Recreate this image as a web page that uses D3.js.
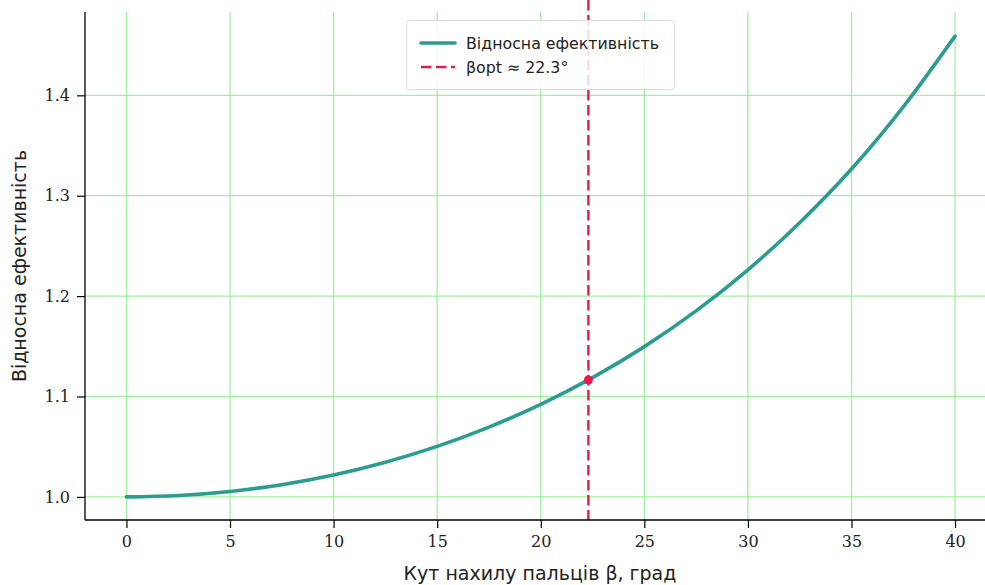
<!DOCTYPE html>
<html>
<head>
<meta charset="utf-8">
<script src="https://cdn.jsdelivr.net/npm/d3@7/dist/d3.min.js"></script>
<style>
  html, body { margin: 0; padding: 0; background: #fff; }
  svg { display: block; }
</style>
</head>
<body>
<svg id="chart" width="985" height="585"></svg>
<script>
// Tilt angle of the fingers, degrees
const betaDeg = [0, 2.5, 5, 7.5, 10, 12.5, 15, 17.5, 20, 22.5, 25, 27.5, 30, 32.5, 35, 37.5, 40];
// Relative efficiency at each angle
const efficiency = [1.000, 1.0014, 1.0054, 1.0122, 1.0218, 1.0345, 1.0503, 1.0695, 1.0922, 1.1188, 1.1497, 1.1853, 1.2262, 1.2731, 1.3266, 1.3885, 1.4590];
// Optimal angle and its efficiency
const betaOpt = 22.3;
const effOpt = 1.1165;
const xTicks = [0, 5, 10, 15, 20, 25, 30, 35, 40];
const yTicks = [1.0, 1.1, 1.2, 1.3, 1.4];

const svg = d3.select("#chart");
const pLeft = 85, pRight = 996.5, pTop = 12, pBottom = 520;

const x = d3.scaleLinear().domain([-2, 42]).range([pLeft, pRight]);
const y = d3.scaleLinear().domain([0.977, 1.483]).range([pBottom, pTop]);

// grid
const grid = svg.append("g");
grid.selectAll("line.vx").data(xTicks).join("line")
  .attr("x1", d => x(d)).attr("x2", d => x(d))
  .attr("y1", pTop).attr("y2", pBottom)
  .attr("stroke", "#90ee90").attr("stroke-opacity", 0.85).attr("stroke-width", 1.3);
grid.selectAll("line.hy").data(yTicks).join("line")
  .attr("x1", pLeft).attr("x2", pRight)
  .attr("y1", d => y(d)).attr("y2", d => y(d))
  .attr("stroke", "#90ee90").attr("stroke-opacity", 0.85).attr("stroke-width", 1.3);

// curve
const pts = betaDeg.map((b, i) => [b, efficiency[i]]);
svg.append("path")
  .datum(pts)
  .attr("fill", "none")
  .attr("stroke", "#2a9d8f")
  .attr("stroke-width", 3.6)
  .attr("stroke-linecap", "round")
  .attr("d", d3.line().x(d => x(d[0])).y(d => y(d[1])).curve(d3.curveMonotoneX));

// optimal angle marker
svg.append("line")
  .attr("x1", x(betaOpt)).attr("x2", x(betaOpt))
  .attr("y1", 0).attr("y2", pBottom)
  .attr("stroke", "#e6194b").attr("stroke-width", 2.4)
  .attr("stroke-dasharray", "10.5,4.5");
svg.append("circle")
  .attr("cx", x(betaOpt)).attr("cy", y(effOpt)).attr("r", 4.5)
  .attr("fill", "#e6194b");

// axes
const xAxis = svg.append("g").attr("transform", `translate(0,${pBottom})`)
  .call(d3.axisBottom(x).tickValues(xTicks).tickFormat(d3.format("d")).tickSizeOuter(0).tickSize(8).tickPadding(8));
const yAxis = svg.append("g").attr("transform", `translate(${pLeft},0)`)
  .call(d3.axisLeft(y).tickValues(yTicks).tickFormat(d3.format(".1f")).tickSizeOuter(0).tickSize(8).tickPadding(7));
[xAxis, yAxis].forEach(a => {
  a.select(".domain").attr("stroke", "#000").attr("stroke-width", 1.3);
  a.selectAll(".tick line").attr("stroke", "#000").attr("stroke-width", 1.2);
  a.selectAll(".tick text").attr("font-family", "'DejaVu Serif', serif").attr("font-size", 16).attr("fill", "#222");
});
xAxis.select(".domain").attr("d", `M${pLeft},0H${985}`);
yAxis.select(".domain").attr("d", `M0,${pTop}V${pBottom}`);

// axis labels
svg.append("text")
  .attr("x", 540).attr("y", 580)
  .attr("text-anchor", "middle")
  .attr("font-family", "'DejaVu Sans', sans-serif").attr("font-size", 19).attr("fill", "#222")
  .text("Кут нахилу пальців β, град");
svg.append("text")
  .attr("transform", `translate(26,266) rotate(-90)`)
  .attr("text-anchor", "middle")
  .attr("font-family", "'DejaVu Sans', sans-serif").attr("font-size", 19).attr("fill", "#222")
  .text("Відносна ефективність");

// legend
const lg = svg.append("g");
lg.append("rect")
  .attr("x", 406.5).attr("y", 20.5).attr("width", 268).attr("height", 69).attr("rx", 3)
  .attr("fill", "#fff").attr("fill-opacity", 0.85)
  .attr("stroke", "#ddd").attr("stroke-width", 1);
lg.append("line").attr("x1", 421).attr("x2", 455).attr("y1", 43).attr("y2", 43)
  .attr("stroke", "#2a9d8f").attr("stroke-width", 3.6).attr("stroke-linecap", "round");
lg.append("line").attr("x1", 421).attr("x2", 455).attr("y1", 67).attr("y2", 67)
  .attr("stroke", "#e6194b").attr("stroke-width", 2.4).attr("stroke-dasharray", "10.5,4.5");
lg.append("text").attr("x", 466).attr("y", 49)
  .attr("font-family", "'DejaVu Sans', sans-serif").attr("font-size", 15.8).attr("fill", "#222")
  .text("Відносна ефективність");
lg.append("text").attr("x", 466).attr("y", 73)
  .attr("font-family", "'DejaVu Sans', sans-serif").attr("font-size", 15.8).attr("fill", "#222")
  .text("βopt ≈ 22.3°");
</script>
</body>
</html>
